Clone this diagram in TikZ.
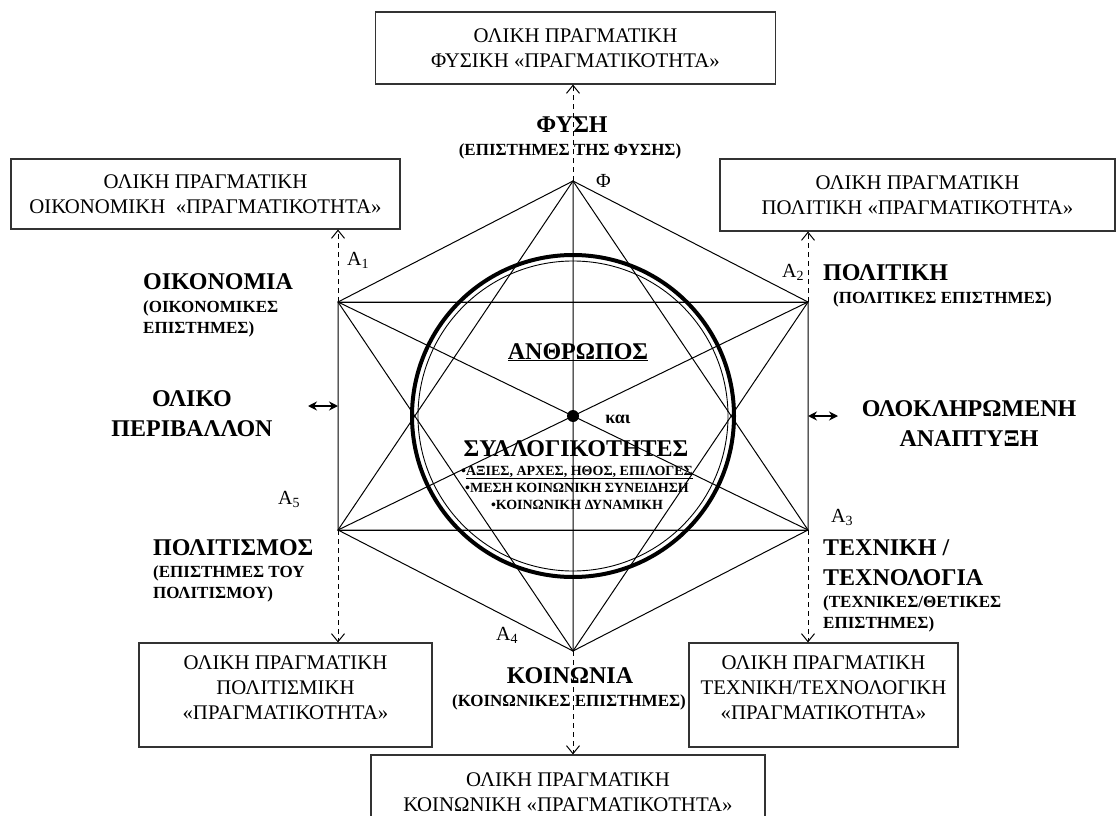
\documentclass[tikz,border=0pt]{standalone}
\usepackage{fontspec}
\setmainfont{Liberation Serif}
\usetikzlibrary{arrows.meta}

\tikzset{
  realbox/.style={draw=black!80, line width=1.1pt, fill=white, align=center, inner sep=0pt,
    font=\fontsize{20.8}{25}\selectfont},
  field/.style={font=\fontsize{24}{30}\selectfont\bfseries, inner sep=0pt},
  science/.style={font=\fontsize{17}{21}\selectfont\bfseries, inner sep=0pt},
  vertex/.style={font=\fontsize{20}{22}\selectfont, inner sep=0pt, anchor=base west},
  toreal/.style={dash pattern=on 5pt off 4pt, line width=1pt, -{Straight Barb[length=8pt,width=13pt]}},
  twoway/.style={line width=1.6pt, {Stealth[length=9pt,width=9pt]}-{Stealth[length=9pt,width=9pt]}},
}

\begin{document}
\begin{tikzpicture}[x=1pt, y=-1pt]
\useasboundingbox (0,0) rectangle (1117,816);
\clip (0,0) rectangle (1117,816);

\coordinate (phi) at (573,181);
\coordinate (a1) at (338,302);
\coordinate (a2) at (808,302);
\coordinate (a3) at (808,530);
\coordinate (a4) at (573,651);
\coordinate (a5) at (338,530);
\coordinate (o) at (573,416);

%% the hexagon, its rectangle and the star
\begin{scope}[line width=1pt]
    \draw (phi) -- (a2) -- (a3) -- (a4) -- (a5) -- (a1) -- cycle;
    \draw (a1) -- (a2) (a5) -- (a3);
    \draw (phi) -- (a3) -- (a5) -- cycle;
    \draw (a4) -- (a1) -- (a2) -- cycle;
    \draw (a1) -- (a3) (a2) -- (a5) (phi) -- (a4);
\end{scope}
\draw[line width=4pt] (o) circle (161);
\draw[line width=0.9pt] (o) circle (155);
\fill (o) circle (6);

%% the boxes
\node[realbox, minimum width=400, minimum height=72] (physbox) at (575.5,48)
    {ΟΛΙΚΗ ΠΡΑΓΜΑΤΙΚΗ\\ΦΥΣΙΚΗ «ΠΡΑΓΜΑΤΙΚΟΤΗΤΑ»};
\node[realbox, minimum width=389, minimum height=70] (econbox) at (205.5,194)
    {ΟΛΙΚΗ ΠΡΑΓΜΑΤΙΚΗ\\ΟΙΚΟΝΟΜΙΚΗ \ «ΠΡΑΓΜΑΤΙΚΟΤΗΤΑ»};
\node[realbox, minimum width=395, minimum height=72] (polbox) at (917.5,195)
    {ΟΛΙΚΗ ΠΡΑΓΜΑΤΙΚΗ\\ΠΟΛΙΤΙΚΗ «ΠΡΑΓΜΑΤΙΚΟΤΗΤΑ»};
\node[realbox, minimum width=293, minimum height=104] (cultbox) at (285.5,695)
    {ΟΛΙΚΗ ΠΡΑΓΜΑΤΙΚΗ\\ΠΟΛΙΤΙΣΜΙΚΗ\\«ΠΡΑΓΜΑΤΙΚΟΤΗΤΑ»\\[-11pt]~};
\node[realbox, minimum width=269, minimum height=104] (techbox) at (823.5,695)
    {ΟΛΙΚΗ ΠΡΑΓΜΑΤΙΚΗ\\ΤΕΧΝΙΚΗ/ΤΕΧΝΟΛΟΓΙΚΗ\\«ΠΡΑΓΜΑΤΙΚΟΤΗΤΑ»\\[-11pt]~};
\node[realbox, minimum width=394, minimum height=74] (socbox) at (568,792)
    {ΟΛΙΚΗ ΠΡΑΓΜΑΤΙΚΗ\\ΚΟΙΝΩΝΙΚΗ «ΠΡΑΓΜΑΤΙΚΟΤΗΤΑ»};

\draw[toreal] (phi) -- (phi |- physbox.south);
\draw[toreal] (a1) -- (a1 |- econbox.south);
\draw[toreal] (a2) -- (a2 |- polbox.south);
\draw[toreal] (a5) -- (a5 |- cultbox.north);
\draw[toreal] (a3) -- (a3 |- techbox.north);
\draw[toreal] (a4) -- (a4 |- socbox.north);

\coordinate (envend) at (308,406);
\coordinate (devend) at (838,416);
\draw[twoway] (envend) -- (envend -| a1);
\draw[twoway] (devend -| a2) -- (devend);

%% vertex names
\node[vertex] (phiname) at (596,187) {Φ};
\node[vertex] (a1name) at (347,265) {Α\textsubscript{1}};
\node[vertex] (a2name) at (782,277) {Α\textsubscript{2}};
\node[vertex] (a3name) at (831,522) {Α\textsubscript{3}};
\node[vertex] (a4name) at (496,640) {Α\textsubscript{4}};
\node[vertex] (a5name) at (278,504) {Α\textsubscript{5}};

%% the fields round the hexagon
\node[field, anchor=base] (nature) at (572,132) {ΦΥΣΗ};
\node[science, anchor=base] (naturesci) at (570,155) {(ΕΠΙΣΤΗΜΕΣ ΤΗΣ ΦΥΣΗΣ)};
\node[field, anchor=base west] (economy) at (143,289) {ΟΙΚΟΝΟΜΙΑ};
\node[science, anchor=base west, align=left] (economysci) at (143,333) {(ΟΙΚΟΝΟΜΙΚΕΣ\\ΕΠΙΣΤΗΜΕΣ)};
\node[field, anchor=base west] (politics) at (823,280) {ΠΟΛΙΤΙΚΗ};
\node[science, anchor=base west] (politicssci) at (833,303) {(ΠΟΛΙΤΙΚΕΣ ΕΠΙΣΤΗΜΕΣ)};
\node[field, anchor=base, align=center] (environment) at (192,436) {ΟΛΙΚΟ\\ΠΕΡΙΒΑΛΛΟΝ};
\node[field, anchor=base, align=center] (development) at (969,446) {ΟΛΟΚΛΗΡΩΜΕΝΗ\\ΑΝΑΠΤΥΞΗ};
\node[field, anchor=base west] (culture) at (153,555) {ΠΟΛΙΤΙΣΜΟΣ};
\node[science, anchor=base west, align=left] (culturesci) at (153,598) {(ΕΠΙΣΤΗΜΕΣ ΤΟΥ\\ΠΟΛΙΤΙΣΜΟΥ)};
\node[field, anchor=base west, align=left] (technology) at (823,585) {ΤΕΧΝΙΚΗ /\\ΤΕΧΝΟΛΟΓΙΑ};
\node[science, anchor=base west, align=left] (technologysci) at (823,628) {(ΤΕΧΝΙΚΕΣ/ΘΕΤΙΚΕΣ\\ΕΠΙΣΤΗΜΕΣ)};
\node[field, anchor=base] (society) at (570,683) {ΚΟΙΝΩΝΙΑ};
\node[science, anchor=base] (societysci) at (569,706) {(ΚΟΙΝΩΝΙΚΕΣ ΕΠΙΣΤΗΜΕΣ)};

%% inside the circle
\node[field, anchor=base] (human) at (578,359) {\underline{ΑΝΘΡΩΠΟΣ}};
\node[anchor=base, inner sep=0pt, font=\fontsize{18}{20}\selectfont\bfseries] (and) at (618,423) {και};
\node[field, anchor=base] (collectives) at (576,456) {ΣΥΛΛΟΓΙΚΟΤΗΤΕΣ};
\node[anchor=base, inner sep=0pt, align=center, font=\fontsize{14}{17}\selectfont\bfseries] (values) at (577,509)
    {•\underline{ΑΞΙΕΣ, ΑΡΧΕΣ, ΗΘΟΣ, ΕΠΙΛΟΓΕΣ}\\•ΜΕΣΗ ΚΟΙΝΩΝΙΚΗ ΣΥΝΕΙΔΗΣΗ\\•ΚΟΙΝΩΝΙΚΗ ΔΥΝΑΜΙΚΗ};
\end{tikzpicture}
\end{document}
